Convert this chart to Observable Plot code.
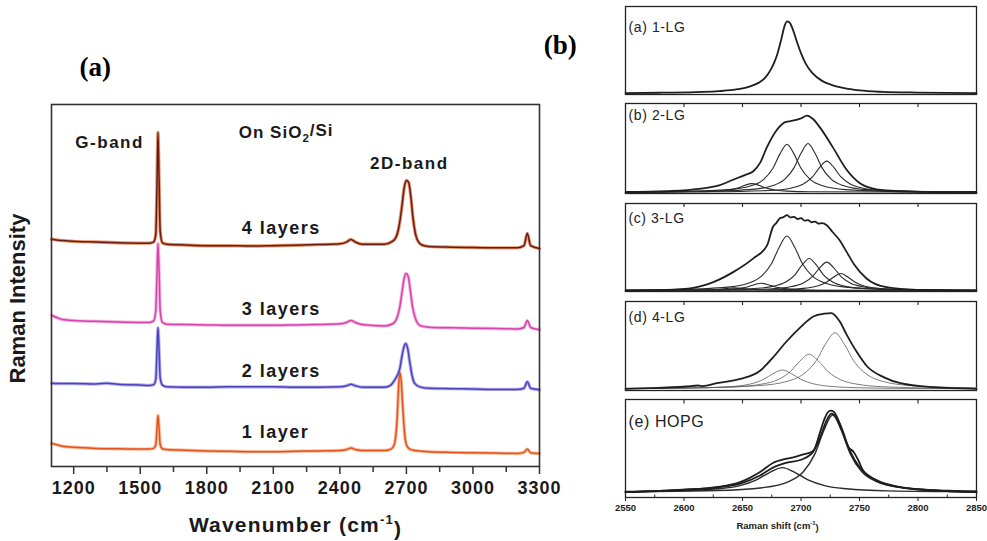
<!DOCTYPE html>
<html><head><meta charset="utf-8">
<script src="https://cdn.jsdelivr.net/npm/d3@7"></script>
<script src="https://cdn.jsdelivr.net/npm/@observablehq/plot@0.6"></script>
<style>
html,body{margin:0;padding:0;background:#fff;}
#wrap{position:relative;width:987px;height:541px;overflow:hidden;background:#fff;}
#left{position:absolute;left:0;top:0;}
#right{position:absolute;left:590px;top:0;width:397px;height:541px;}
#right > div{position:absolute;left:0;}
svg{overflow:visible;}
</style></head><body><div id="wrap"><div id="left"></div><div id="right"></div></div>
<script>
// ---------------- LEFT PANEL DATA (Raman spectra on SiO2/Si, offset stacked) ----------------
const wnMajor = [1200,1500,1800,2100,2400,2700,3000,3300];
const wnMinor = [1350,1650,1950,2250,2550,2850,3150];
const layerNames = ["1 layer","2 layers","3 layers","4 layers"];
const layer1 = [[1100,6.4],[1150,5.6],[1200,5.3],[1300,5.0],[1400,4.9],[1500,4.8],[1540,4.8],[1560,5.0],[1570,6.0],[1575,10],[1580,14.1],[1585,10.5],[1590,6.0],[1600,4.9],[1620,4.7],[1700,4.5],[1800,4.3],[1900,4.2],[2000,4.1],[2100,4.1],[2200,4.2],[2300,4.3],[2400,4.4],[2430,4.7],[2450,5.1],[2470,4.7],[2500,4.4],[2600,4.4],[2630,4.8],[2645,6.0],[2652,8.5],[2658,13],[2664,21],[2670,26],[2676,24],[2684,16],[2692,9],[2700,6.0],[2715,4.8],[2740,4.4],[2800,4.1],[2900,3.9],[3000,3.8],[3100,3.7],[3200,3.6],[3230,3.9],[3245,4.8],[3260,3.8],[3300,3.6]];
const layer2 = [[1100,23.0],[1150,22.9],[1200,22.9],[1300,22.8],[1350,23.0],[1400,22.7],[1500,22.5],[1540,22.4],[1560,22.6],[1570,24],[1575,31],[1580,38.4],[1585,32],[1590,24.5],[1600,22.5],[1620,22.0],[1700,21.9],[1800,21.9],[1900,22.0],[2000,22.0],[2100,22.0],[2200,21.9],[2300,21.9],[2400,22.0],[2430,22.3],[2450,22.7],[2470,22.3],[2500,21.9],[2600,21.9],[2630,22.5],[2650,24.2],[2660,25.3],[2670,27],[2680,30.5],[2690,33.3],[2698,34.0],[2706,32.5],[2716,28.5],[2726,25],[2738,22.9],[2760,22],[2800,21.6],[2900,21.5],[3000,21.4],[3100,21.3],[3200,21.3],[3230,21.6],[3245,23.4],[3260,21.6],[3300,21.2]];
const layer3 = [[1100,41.8],[1150,40.6],[1200,40.3],[1300,40.1],[1400,39.9],[1500,39.8],[1540,39.8],[1560,40.2],[1570,43],[1575,52],[1580,61.6],[1585,54],[1590,43],[1600,39.8],[1620,39.3],[1700,39.2],[1800,39.1],[1900,39.0],[2000,39.0],[2100,39.0],[2200,39.1],[2300,39.2],[2400,39.4],[2430,39.8],[2450,40.3],[2470,39.8],[2500,39.2],[2600,38.8],[2640,39.5],[2660,41.5],[2670,44],[2680,48],[2690,52],[2698,53.3],[2708,52.5],[2718,48.5],[2728,44],[2740,41],[2760,39],[2800,38.5],[2900,38.3],[3000,38.2],[3100,38.1],[3200,38.0],[3230,38.4],[3245,40.3],[3260,38.4],[3300,37.8]];
const layer4 = [[1100,62.8],[1150,62.4],[1200,62.2],[1300,62.0],[1400,61.8],[1500,61.7],[1540,61.7],[1560,62.0],[1570,64],[1575,76],[1580,92.3],[1585,79],[1590,65],[1600,61.8],[1620,61.4],[1700,61.2],[1800,61.0],[1900,61.0],[2000,60.9],[2100,61.0],[2200,61.1],[2300,61.3],[2400,61.5],[2430,62.0],[2450,62.7],[2470,62.0],[2500,61.4],[2600,61.4],[2640,62.3],[2660,64.5],[2670,67.5],[2680,72],[2690,77],[2700,79],[2710,78.5],[2720,74.5],[2730,68.5],[2740,64.5],[2750,62.5],[2770,61.2],[2800,60.8],[2900,60.6],[3000,60.5],[3100,60.4],[3200,60.4],[3230,61],[3245,64.4],[3260,61],[3300,60.2]];
const bandLabels = ["G-band","On SiO2/Si","2D-band"];

// ---------------- RIGHT PANEL DATA (2D band fits) ----------------
const shiftTicks = [2550,2600,2650,2700,2750,2800,2850];
const shiftMinor = [2575,2625,2675,2725,2775,2825];
const panelNames = ["(a) 1-LG","(b) 2-LG","(c) 3-LG","(d) 4-LG","(e) HOPG"];
const spec1LG = [[2550,1.6],[2580,2.0],[2610,2.8],[2630,3.8],[2646,6.0],[2656,9.0],[2664,13.5],[2670,20],[2674,28],[2677,36],[2680,47],[2683,62],[2686,78],[2688,83],[2690,82],[2693,74],[2696,62],[2700,47],[2704,35],[2710,24],[2718,15.5],[2726,11],[2736,7.5],[2750,4.6],[2770,3.0],[2800,2.2],[2850,1.6]];
const spec2LG = [[2550,1.4],[2585,2.5],[2613,5.1],[2630,9],[2642,15.3],[2652,20.5],[2659,24.4],[2665,34],[2671,51.8],[2679,70],[2686,79],[2691,80.5],[2696,81.8],[2700,83.5],[2705,86.5],[2710,83],[2716,73.7],[2727,51.8],[2739,26.3],[2750,11.7],[2760,6],[2770,3.6],[2790,2.3],[2813,1.6],[2850,1.4]];
const fit2LG_1 = [[2550,1.8],[2588,2.1],[2638,4.3],[2658,8.8],[2668,15.5],[2676,28],[2682,44],[2688,54.8],[2694,44],[2700,28],[2708,15.5],[2718,8.8],[2738,4.3],[2788,2.1],[2850,1.7]];
const fit2LG_2 = [[2550,1.7],[2606,2.2],[2656,4.3],[2676,8.9],[2686,15.7],[2694,28.5],[2700,44.7],[2706,55.5],[2712,44.7],[2718,28.5],[2726,15.7],[2736,8.9],[2756,4.3],[2806,2.2],[2850,1.8]];
const fit2LG_3 = [[2550,1.5],[2622,1.9],[2672,3.3],[2692,6.2],[2702,10.6],[2710,18.7],[2716,29.1],[2722,36],[2728,29.1],[2734,18.7],[2742,10.6],[2752,6.2],[2772,3.3],[2822,1.9],[2850,1.7]];
const fit2LG_4 = [[2550,1.5],[2608,1.9],[2628,2.6],[2638,3.9],[2646,6.0],[2652,9.1],[2658,11],[2664,9.1],[2670,6.0],[2678,3.9],[2688,2.6],[2708,1.9],[2850,1.4]];
const spec3LG = [[2550,1.1],[2585,1.9],[2608,4.2],[2625,10.6],[2642,22],[2659,37.3],[2671,52.5],[2676,73.3],[2679,78],[2682,83.2],[2685,84.5],[2688,86.7],[2691,84.2],[2694,84.8],[2697,82.4],[2700,83.3],[2703,80.6],[2706,81.2],[2709,78.7],[2712,79.4],[2715,77.1],[2718,77.6],[2722,75.3],[2727,67.6],[2733,58.2],[2739,45],[2745,31.6],[2756,14.8],[2773,4.9],[2799,1.9],[2850,1.1]];
const fit3LG_1 = [[2550,1.6],[2588,2.1],[2633,4.4],[2655,9.4],[2666,17.1],[2675,32.1],[2681.5,50.6],[2688,63],[2694.5,50.6],[2701,32.1],[2710,17.1],[2721,9.4],[2743,4.4],[2788,2.1],[2850,1.5]];
const fit3LG_2 = [[2550,1.3],[2607,1.6],[2657,3.1],[2677,6.1],[2687,10.7],[2695,19.3],[2701,30.2],[2707,37.5],[2713,30.2],[2719,19.3],[2727,10.7],[2737,6.1],[2757,3.1],[2807,1.6],[2850,1.3]];
const fit3LG_3 = [[2550,1.3],[2622,1.6],[2672,2.8],[2692,5.6],[2702,9.7],[2710,17.3],[2716,26.9],[2722,33.4],[2728,26.9],[2734,17.3],[2742,9.7],[2752,5.6],[2772,2.8],[2822,1.6],[2850,1.3]];
const fit3LG_4 = [[2550,1.2],[2634,1.4],[2684,2.1],[2704,3.8],[2714,6.2],[2722,10.8],[2728,16.5],[2734,20.4],[2740,16.5],[2746,10.8],[2754,6.2],[2764,3.8],[2784,2.1],[2834,1.4],[2850,1.3]];
const fit3LG_5 = [[2550,1.2],[2616,1.5],[2636,2.2],[2646,3.3],[2654,5.2],[2660,7.7],[2666,9.3],[2672,7.7],[2678,5.2],[2686,3.3],[2696,2.2],[2716,1.5],[2850,1.1]];
const fit3LG_6 = [[2550,1.1],[2593,1.3],[2613,1.5],[2623,1.9],[2631,2.6],[2637,3.5],[2643,4.1],[2649,3.5],[2655,2.6],[2663,1.9],[2673,1.5],[2693,1.3],[2850,1.1]];
const spec4LG = [[2550,1.9],[2571,2.6],[2602,4.5],[2612,5.6],[2616,5.0],[2628,8.2],[2648,13],[2665,22.2],[2676,37],[2688,55.6],[2699,70.4],[2711,83.4],[2720,86.3],[2726,87],[2733,77.8],[2739,62.8],[2748,42.6],[2756,27.8],[2771,14.8],[2785,8.2],[2813,3.7],[2850,1.9]];
const fit4LG_1 = [[2550,2.2],[2574,2.3],[2619,3.1],[2644,4.8],[2657,7.4],[2668,12.5],[2676,18.8],[2684,23],[2692,18.8],[2700,12.5],[2711,7.4],[2724,4.8],[2749,3.1],[2794,2.3],[2850,2.2]];
const fit4LG_2 = [[2550,2.3],[2597,2.7],[2642,4.1],[2667,7.3],[2680,12],[2691,21.4],[2699,33],[2707,40.8],[2715,33],[2723,21.4],[2734,12],[2747,7.3],[2772,4.1],[2817,2.7],[2850,2.4]];
const fit4LG_3 = [[2550,2.4],[2619,3.2],[2664,5.5],[2689,10.6],[2702,18.3],[2713,33.4],[2721,52.2],[2729,64.8],[2737,52.2],[2745,33.4],[2756,18.3],[2769,10.6],[2794,5.5],[2839,3.2],[2850,3.0]];
const specHOPG = [[2550,5.4],[2599,7.9],[2628,10.6],[2648,15.7],[2665,26],[2676,35.2],[2688,39.7],[2695,41.5],[2702,44.1],[2707,45.5],[2711,48.3],[2716,65.4],[2720,80],[2723,87],[2725.4,88.6],[2728,87.5],[2733,75.7],[2737,62],[2740.5,51.6],[2745,46.5],[2749,38],[2753,27.7],[2765,17.5],[2785,10.6],[2813,7.2],[2850,5.4]];
const sumHOPG = [[2550,5.6],[2599,7.8],[2628,10.2],[2648,14.2],[2665,22.5],[2676,30.5],[2688,35.5],[2700,38.5],[2710,46],[2716,60],[2722,79],[2726,85.5],[2730,82],[2735,70],[2740,53],[2746,38],[2753,27],[2765,17],[2785,10.4],[2813,7.2],[2850,5.6]];
const fitHOPG_1 = [[2550,6.1],[2594,6.8],[2629,8.9],[2647,11.9],[2662,18.0],[2673,25.5],[2684,30.5],[2695,25.5],[2706,18.0],[2721,11.9],[2739,8.9],[2774,6.8],[2834,6.0],[2850,5.8]];
const fitHOPG_2 = [[2550,6.0],[2627,7.1],[2667,10.0],[2690,16.5],[2702,26.3],[2712,44.8],[2719.5,68.4],[2727,84.2],[2734.5,68.4],[2742,44.8],[2752,26.3],[2764,16.5],[2787,10.0],[2827,7.1],[2850,6.6]];

// ---------------- STYLES / LAYOUT (not data) ----------------
const layerDark = {"1 layer":"#e4521c","2 layers":"#4b42bd","3 layers":"#d444aa","4 layers":"#6a1a10"};
const layerHalo = {"1 layer":"#f7a479","2 layers":"#9c95e8","3 layers":"#f29ad8","4 layers":"#d9733f"};
const layerLabelPos = {"1 layer":[1958,9.4],"2 layers":[1958,26.2],"3 layers":[1958,43.4],"4 layers":[1958,65.7]};
const bandLabelPos = {"G-band":[1362,89.5],"On SiO2/Si":[2158,92.3],"2D-band":[2713,83.7]};

const layerSeries = {"1 layer":layer1,"2 layers":layer2,"3 layers":layer3,"4 layers":layer4};
const leftRows = [];
layerNames.forEach(n => layerSeries[n].forEach(([x,y]) => leftRows.push({series:n, x, y})));

const boldSans = "'Liberation Sans', Arial, Helvetica, sans-serif";
const leftPlot = Plot.plot({
  width: 590, height: 541,
  marginLeft: 51, marginRight: 51, marginTop: 104, marginBottom: 75,
  x: {domain: [1100, 3300], label: null},
  y: {domain: [0, 100], axis: null},
  color: {type: "identity"},
  style: {fontFamily: boldSans, fontWeight: "bold", color: "#1a1a1a", background: "transparent", overflow: "visible"},
  marks: [
    Plot.line(leftRows, {x:"x", y:"y", z:"series", stroke: d => layerHalo[d.series], strokeWidth: 3.4, strokeOpacity: 0.75, curve: "monotone-x"}),
    Plot.line(leftRows, {x:"x", y:"y", z:"series", stroke: d => layerDark[d.series], strokeWidth: 1.5, curve: "monotone-x"}),
    Plot.frame({stroke: "#333", strokeWidth: 1.6}),
    Plot.axisX({ticks: wnMinor, tickSize: 6, tickFormat: () => "", stroke: "#333", strokeWidth: 1.5, label: null}),
    Plot.axisX({ticks: wnMajor, tickSize: 8, tickPadding: 7, fontSize: 18, fontWeight: "bold", stroke: "#333", strokeWidth: 1.5, label: null, tickFormat: d => String(d)}),
    Plot.text(layerNames, {x: d => layerLabelPos[d][0], y: d => layerLabelPos[d][1], text: d => d, textAnchor: "start", fontSize: 18, fontWeight: "bold", fill: "#1a1a1a"}),
    Plot.text(bandLabels, {x: d => bandLabelPos[d][0], y: d => bandLabelPos[d][1], text: d => d, fontSize: 17, fontWeight: "bold", fill: "#1a1a1a"}),
    Plot.text(["Wavenumber (cm-1)"], {text: d => d, frameAnchor: "bottom", dy: 65, fontSize: 21, fontWeight: "bold", fill: "#1a1a1a"}),
    Plot.text(["Raman Intensity"], {text: d => d, x: 950, y: 46.4, rotate: -90, fontSize: 22, fontWeight: "bold", fill: "#1a1a1a"}),
    Plot.text(["(a)"], {text: d => d, x: 1297, y: 110.2, fontSize: 27, fontWeight: "bold", fontFamily: "'Liberation Serif', 'Times New Roman', serif", fill: "#000"}),
    Plot.text(["(b)"], {text: d => d, x: 3394, y: 116.3, fontSize: 27, fontWeight: "bold", fontFamily: "'Liberation Serif', 'Times New Roman', serif", fill: "#000"})
  ]
});
document.getElementById("left").appendChild(leftPlot);

function supSub(svg){
  d3.select(svg).selectAll("text").each(function(){
    const t = this.textContent;
    const s = d3.select(this);
    if (t === "On SiO2/Si") {
      s.text(null);
      s.append("tspan").text("On SiO");
      s.append("tspan").attr("dy","0.4em").attr("font-size","68%").text("2");
      s.append("tspan").attr("dy","-0.4em").text("/Si");
      s.style("letter-spacing","1px");
    } else if (/\(cm-1\)$/.test(t)) {
      const head = t.replace("-1)","");
      s.text(null);
      s.append("tspan").text(head);
      s.append("tspan").attr("dy","-0.55em").attr("font-size","62%").text("-1");
      s.append("tspan").attr("dy","0.55em").text(")");
    }
  });
}
supSub(leftPlot);
d3.select(leftPlot).selectAll("g[aria-label='x-axis tick label'] text").style("letter-spacing","1px");
d3.select(leftPlot).selectAll("text").filter(function(){ return layerNames.includes(this.textContent) || this.textContent==="G-band" || this.textContent==="2D-band"; }).style("letter-spacing","1.5px");
d3.select(leftPlot).selectAll("text").filter(function(){ return this.textContent.startsWith("Wavenumber"); }).style("letter-spacing","1.2px");

// ---------------- RIGHT PANELS ----------------
const panelSpectra = {"(a) 1-LG":[spec1LG],"(b) 2-LG":[spec2LG],"(c) 3-LG":[spec3LG],"(d) 4-LG":[spec4LG],"(e) HOPG":[specHOPG, sumHOPG]};
const panelFits = {"(a) 1-LG":[],"(b) 2-LG":[fit2LG_1,fit2LG_2,fit2LG_3,fit2LG_4],"(c) 3-LG":[fit3LG_1,fit3LG_2,fit3LG_3,fit3LG_4,fit3LG_5,fit3LG_6],"(d) 4-LG":[fit4LG_1,fit4LG_2,fit4LG_3],"(e) HOPG":[fitHOPG_1,fitHOPG_2]};
const panelLayout = [
  {top: 6,   bottom: 94,  labelDy: 21, labelSize: 14, fitColor: "#2a2a2a", fitWidth: 1.1},
  {top: 103, bottom: 193, labelDy: 12, labelSize: 14, fitColor: "#2a2a2a", fitWidth: 1.1},
  {top: 203, bottom: 291, labelDy: 15, labelSize: 14, fitColor: "#2a2a2a", fitWidth: 1.1},
  {top: 301, bottom: 390, labelDy: 16, labelSize: 14, fitColor: "#5a5a5a", fitWidth: 0.8},
  {top: 399, bottom: 497, labelDy: 22, labelSize: 16, fitColor: "#2a2a2a", fitWidth: 1.4}
];
const toRows = arrs => { const rows = []; arrs.forEach((a,k) => a.forEach(([x,y]) => rows.push({k, x, y}))); return rows; };
const rightDiv = document.getElementById("right");
panelNames.forEach((name, i) => {
  const L = panelLayout[i];
  const last = i === panelNames.length - 1;
  const mt = 2, mb = last ? 44 : 2;
  const marks = [
    Plot.frame({stroke: "#222", strokeWidth: 1.3}),
    Plot.line(toRows(panelFits[name]), {x:"x", y:"y", z:"k", stroke: L.fitColor, strokeWidth: L.fitWidth, curve: "monotone-x"}),
    Plot.line(toRows(panelSpectra[name]), {x:"x", y:"y", z:"k", stroke: "#1e1e1e", strokeWidth: 1.8, curve: "monotone-x"}),
    Plot.text([name], {text: d => d, frameAnchor: "top-left", dx: 3, dy: L.labelDy, textAnchor: "start", lineAnchor: "middle", fontSize: L.labelSize, fill: "#222", fontFamily: "'Liberation Sans', Arial, sans-serif"})
  ];
  if (i > 0) marks.push(Plot.ruleX(shiftTicks.slice(1, -1), {x: d => d, y1: 100, y2: 95.5, stroke: "#222", strokeWidth: 1.1}));
  if (last) {
    marks.push(Plot.ruleX(shiftMinor, {x: d => d, y1: 0, y2: 2.5, stroke: "#222", strokeWidth: 1}));
    marks.push(Plot.axisX({ticks: shiftTicks, tickSize: 4, tickPadding: 3, fontSize: 9.5, fontWeight: "bold", stroke: "#222", label: null, tickFormat: d => String(d)}));
    marks.push(Plot.text(["Raman shift (cm-1)"], {text: d => d, x: 2680, frameAnchor: "bottom", dy: 31, fontSize: 9.5, fontWeight: "600", fill: "#222"}));
  }
  const p = Plot.plot({
    width: 397, height: (L.bottom - L.top) + mt + mb,
    marginLeft: 35, marginRight: 11, marginTop: mt, marginBottom: mb,
    x: {domain: [2550, 2850], label: null, ...(last ? {} : {axis: null})},
    y: {domain: [0, 100], axis: null},
    style: {fontFamily: "'Liberation Sans', Arial, sans-serif", color: "#222", background: "transparent", overflow: "visible"},
    marks
  });
  const holder = document.createElement("div");
  holder.style.top = (L.top - mt) + "px";
  holder.appendChild(p);
  rightDiv.appendChild(holder);
  supSub(p);
  d3.select(p).selectAll("text").filter(function(){ return panelNames.includes(this.textContent); }).style("letter-spacing","0.6px");
});
</script></body></html>
